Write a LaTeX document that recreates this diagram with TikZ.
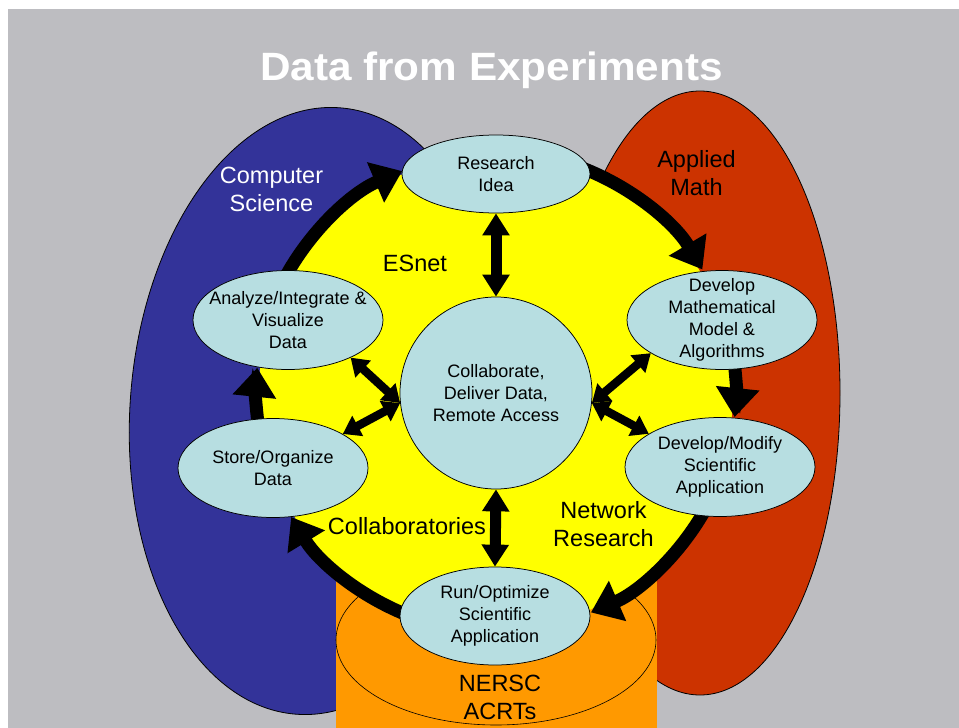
\documentclass[tikz,border=0pt]{standalone}
\usepackage{fontspec}
\setmainfont{Liberation Sans}
\usetikzlibrary{arrows.meta,shapes.geometric,calc}
\definecolor{bgGray}{RGB}{189,189,193}
\definecolor{csBlue}{RGB}{51,51,153}
\definecolor{amRed}{RGB}{204,51,0}
\definecolor{nerscOrange}{RGB}{255,153,0}
\definecolor{esYellow}{RGB}{255,255,0}
\definecolor{bubbleFill}{RGB}{183,222,225}
\tikzset{
  bubble/.style={ellipse, draw=black, line width=0.75pt, fill=bubbleFill, inner sep=0pt, minimum width=190pt, minimum height=99pt},
  hub/.style={circle, draw=black, line width=0.75pt, fill=bubbleFill, inner sep=0pt, minimum size=192pt},
  btext/.style={font=\fontsize{18}{22}\selectfont, align=center, text=black, inner sep=0pt},
  biglabel/.style={font=\fontsize{23.5}{28}\selectfont, anchor=base, inner sep=0pt},
  cyc/.style={line width=13pt, -{Triangle[width=42pt,length=29pt]}},
  dblv/.style={line width=11pt, {Triangle[width=26pt,length=22pt]}-{Triangle[width=26pt,length=22pt]}},
  dbld/.style={line width=8.5pt, {Triangle[width=22pt,length=17pt]}-{Triangle[width=22pt,length=17pt]}},
}
\begin{document}
\begin{tikzpicture}[x=1pt,y=1pt]
\useasboundingbox (0,0) rectangle (959,-728);
\fill[white] (0,0) rectangle (959,-728);
\fill[bgGray] (8,-9) rectangle (959,-728);
% background regions
\draw[fill=csBlue, line width=0.8pt, rotate around={-4:(318,-411)}] (318,-411) ellipse [x radius=188, y radius=304];
\draw[fill=amRed, line width=0.8pt] (700,-393) ellipse [x radius=140, y radius=302];
\fill[nerscOrange] (336,-577) rectangle (657,-728);
\draw[fill=nerscOrange, line width=0.6pt] (496,-640) ellipse [x radius=160, y radius=85];
\coordinate (O) at (496,-392);
\fill[esYellow] (O) circle [radius=237];
% cycle arrows
\draw[cyc] ($(O)+(69:240)$) arc[start angle=69, end angle=30.7, radius=240];
\draw[cyc] ($(O)+(8:240)$) arc[start angle=8, end angle=-6, radius=240];
\draw[cyc] ($(O)+(-29:240)$) arc[start angle=-29, end angle=-66.7, radius=240];
\draw[cyc] ($(O)+(-111:240)$) arc[start angle=-111, end angle=-148.6, radius=240];
\draw[cyc] ($(O)+(-171.5:240)$) arc[start angle=-171.5, end angle=-185.8, radius=240];
\draw[cyc] ($(O)+(152:240)$) arc[start angle=152, end angle=113, radius=240];
% nodes
\node[bubble, minimum width=188pt, minimum height=78pt] (ri) at (496,-174) {};
\node[bubble] (an) at (288,-320) {};
\node[bubble] (so) at (273,-468) {};
\node[bubble] (dm) at (722,-320) {};
\node[bubble] (mo) at (720,-467) {};
\node[bubble, minimum height=98pt] (ru) at (495,-616) {};
\node[hub] (co) at (496,-393) {};
% double arrows
\draw[dblv] (ri.south) -- (co.north);
\draw[dblv] (co.south) -- (ru.north);
\draw[dbld] (an.-31) -- (co.186);
\draw[dbld] (so.26) -- (co.186);
\draw[dbld] (dm.205) -- (co.354);
\draw[dbld] (mo.155) -- (co.354);
% node texts
\node[btext] at (ri) {Research\\Idea};
\node[btext] at (an) {Analyze/Integrate \&\\Visualize\\Data};
\node[btext] at (so) {Store/Organize\\Data};
\node[btext] at (dm) {Develop\\Mathematical\\Model \&\\Algorithms};
\node[btext] at (mo) {Develop/Modify\\Scientific\\Application};
\node[btext] at (ru) {Run/Optimize\\Scientific\\Application};
\node[btext] at (co) {Collaborate,\\Deliver Data,\\Remote Access};
% labels
\node[font=\fontsize{39.5}{42}\selectfont\bfseries, text=white, anchor=base, inner sep=0pt, xscale=1.07, transform shape] (title) at (491.5,-80) {Data from Experiments};
\node[biglabel, text=white] (cs1) at (271.5,-183) {Computer};
\node[biglabel, text=white] (cs2) at (271.5,-211) {Science};
\node[biglabel] (am1) at (696.5,-167) {Applied};
\node[biglabel] (am2) at (696.5,-195) {Math};
\node[biglabel] (es) at (415,-271) {ESnet};
\node[biglabel] (cl) at (407,-534) {Collaboratories};
\node[biglabel] (nr1) at (603.5,-518) {Network};
\node[biglabel] (nr2) at (603.5,-546) {Research};
\node[biglabel] (ne1) at (500,-691) {NERSC};
\node[biglabel] (ne2) at (500,-719) {ACRTs};
\end{tikzpicture}
\end{document}
